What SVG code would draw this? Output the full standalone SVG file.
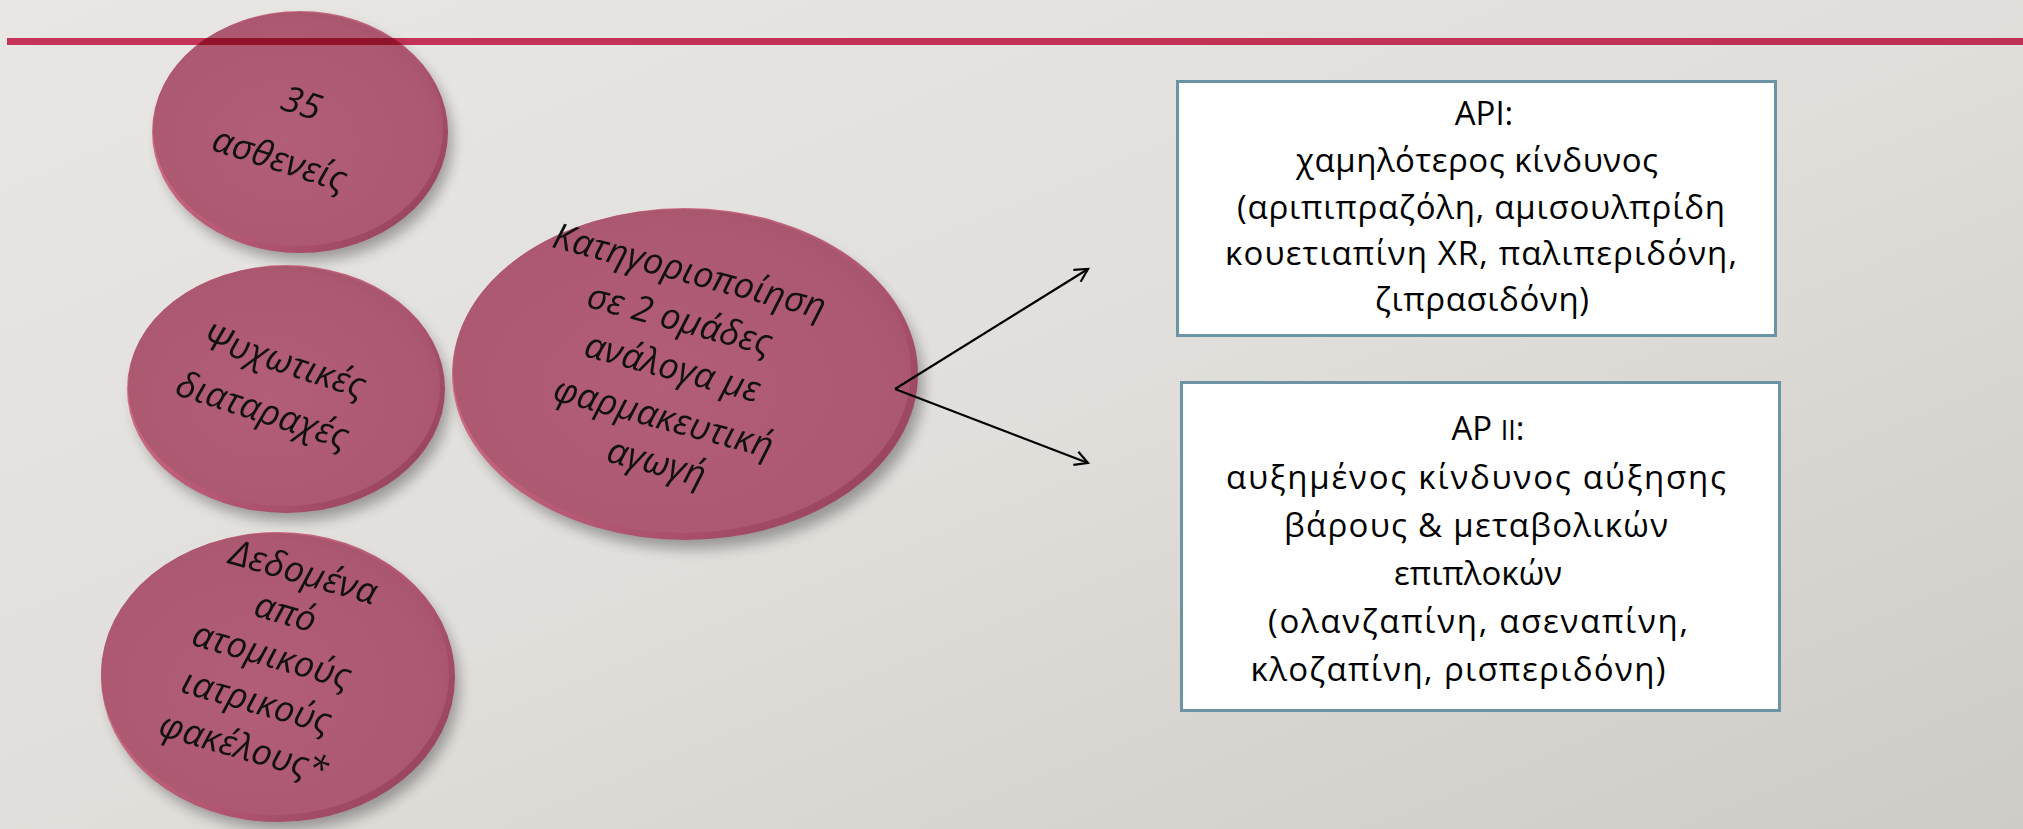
<svg xmlns="http://www.w3.org/2000/svg" width="2023" height="829" viewBox="0 0 2023 829">
<defs>
  <linearGradient id="bg" x1="0" y1="0" x2="1" y2="1">
    <stop offset="0" stop-color="#e9e7e4"/>
    <stop offset="0.5" stop-color="#e1dfdb"/>
    <stop offset="1" stop-color="#cfcbc6"/>
  </linearGradient>
  <radialGradient id="faceG" cx="0.45" cy="0.55" r="0.65">
    <stop offset="0" stop-color="#b25e77"/>
    <stop offset="0.8" stop-color="#ab5870"/>
    <stop offset="1" stop-color="#a2506a"/>
  </radialGradient>
  <linearGradient id="rimG" x1="0" y1="0.2" x2="1" y2="0.9">
    <stop offset="0" stop-color="#e0718f"/>
    <stop offset="0.45" stop-color="#ba5c77"/>
    <stop offset="1" stop-color="#93405a"/>
  </linearGradient>
  <filter id="blur" x="-20%" y="-20%" width="140%" height="140%">
    <feGaussianBlur stdDeviation="7"/>
  </filter>
  <marker id="arr" markerWidth="20" markerHeight="20" refX="15" refY="8" orient="auto" markerUnits="userSpaceOnUse">
    <path d="M2,1 L15,8 L2,15" fill="none" stroke="#000" stroke-width="2.2"/>
  </marker>
  <style>
    .shadow{fill:#000;opacity:0.32;filter:url(#blur)}
    .rim{fill:url(#rimG)}
    .face{fill:url(#faceG)}
    .dt{font-family:"Open Sans","Noto Sans","DejaVu Sans",sans-serif;font-style:italic;font-size:36px;fill:#111;text-anchor:middle;dominant-baseline:central}
    .bx{fill:#fff;stroke:#6b95a4;stroke-width:3}
    .bt{font-family:"Open Sans","Noto Sans","DejaVu Sans",sans-serif;font-size:33px;fill:#000;text-anchor:middle}
    .conn{stroke:#000;stroke-width:2.2;fill:none}
  </style>
</defs>
<rect x="0" y="0" width="2023" height="829" fill="url(#bg)"/>

<g id="disc1">
  <ellipse class="shadow" cx="306" cy="141" rx="146" ry="120"/>
  <ellipse class="rim" cx="300" cy="132" rx="148" ry="121"/>
  <ellipse class="face" cx="298" cy="129" rx="145" ry="117"/>
  <text class="dt" x="302" y="102" transform="rotate(18 302 102)">35</text>
  <text class="dt" x="280" y="158" transform="rotate(18 280 158)">ασθενείς</text>
</g>

<line x1="7" y1="41.5" x2="2023" y2="41.5" stroke="#d42251" stroke-width="7" style="mix-blend-mode:multiply" opacity="0.9"/>

<g id="disc2">
  <ellipse class="shadow" cx="292" cy="399" rx="157" ry="122"/>
  <ellipse class="rim" cx="286" cy="389" rx="159" ry="124"/>
  <ellipse class="face" cx="284" cy="386" rx="156" ry="120"/>
  <text class="dt" x="285" y="360" transform="rotate(18 285 360)">Ψυχωτικές</text>
  <text class="dt" x="263" y="409" transform="rotate(18 263 409)">διαταραχές</text>
</g>

<g id="disc3">
  <ellipse class="shadow" cx="692" cy="385" rx="231" ry="164"/>
  <ellipse class="rim" cx="685" cy="374" rx="233" ry="166"/>
  <ellipse class="face" cx="682" cy="371" rx="229" ry="162"/>
  <text class="dt" x="690" y="270" transform="rotate(15 690 270)">Κατηγοριοποίηση</text>
  <text class="dt" x="680" y="318" transform="rotate(15 680 318)">σε 2 ομάδες</text>
  <text class="dt" x="673" y="366" transform="rotate(15 673 366)">ανάλογα με</text>
  <text class="dt" x="664" y="416" transform="rotate(15 664 416)">φαρμακευτική</text>
  <text class="dt" x="657" y="461" transform="rotate(15 657 461)">αγωγή</text>
</g>

<g id="disc4">
  <ellipse class="shadow" cx="284" cy="687" rx="175" ry="143"/>
  <ellipse class="rim" cx="278" cy="677" rx="177" ry="145"/>
  <ellipse class="face" cx="275" cy="674" rx="174" ry="141"/>
  <text class="dt" x="304" y="571" transform="rotate(16 304 571)">Δεδομένα</text>
  <text class="dt" x="286" y="611" transform="rotate(16 286 611)">από</text>
  <text class="dt" x="272" y="654" transform="rotate(16 272 654)">ατομικούς</text>
  <text class="dt" x="257" y="700" transform="rotate(16 257 700)">ιατρικούς</text>
  <text class="dt" x="244" y="746" transform="rotate(16 244 746)">φακέλους*</text>
</g>

<g id="connectors">
  <line class="conn" x1="895" y1="389" x2="1088" y2="269" marker-end="url(#arr)"/>
  <line class="conn" x1="895" y1="389" x2="1088" y2="463" marker-end="url(#arr)"/>
</g>

<g id="box1">
  <rect class="bx" x="1177.5" y="81.5" width="598" height="254"/>
  <text class="bt" x="1484" y="125">API:</text>
  <text class="bt" x="1477" y="172" textLength="362">χαμηλότερος κίνδυνος</text>
  <text class="bt" x="1481" y="219" textLength="488">(αριπιπραζόλη, αμισουλπρίδη</text>
  <text class="bt" x="1481" y="265" textLength="512">κουετιαπίνη XR, παλιπεριδόνη,</text>
  <text class="bt" x="1482" y="311" textLength="214">ζιπρασιδόνη)</text>
</g>

<g id="box2">
  <rect class="bx" x="1181.5" y="382.5" width="598" height="328"/>
  <text class="bt" x="1488" y="440">AP <tspan font-size="27">II</tspan>:</text>
  <text class="bt" x="1476" y="489" textLength="500">αυξημένος κίνδυνος αύξησης</text>
  <text class="bt" x="1476" y="537" textLength="384">βάρους &amp; μεταβολικών</text>
  <text class="bt" x="1478" y="585">επιπλοκών</text>
  <text class="bt" x="1478" y="633" textLength="420">(ολανζαπίνη, ασεναπίνη,</text>
  <text class="bt" x="1458" y="681" textLength="415">κλοζαπίνη, ρισπεριδόνη)</text>
</g>
</svg>
